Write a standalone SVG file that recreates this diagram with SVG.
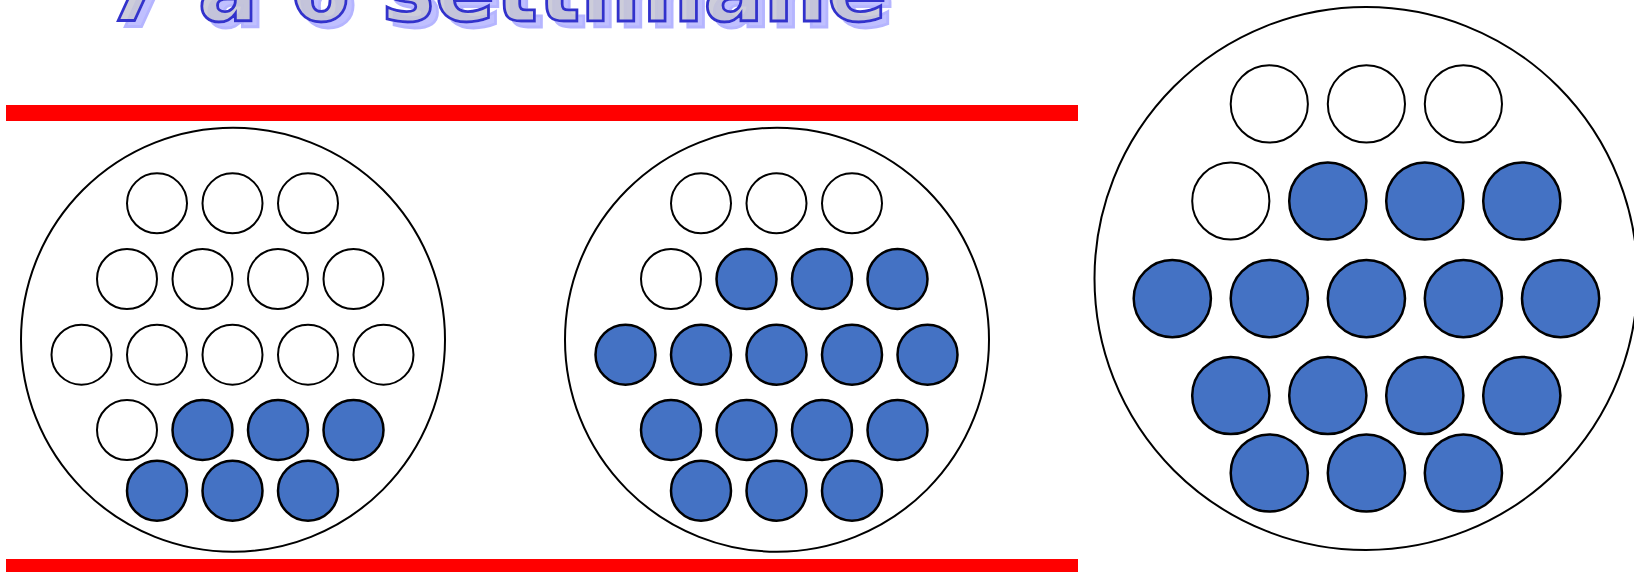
<svg xmlns="http://www.w3.org/2000/svg" width="1634" height="572" viewBox="0 0 1634 572">
<style>
.bar{fill:#FF0000}
.outer{fill:#FFFFFF;stroke:#000000;stroke-width:2}
.e{fill:#FFFFFF;stroke:#000000;stroke-width:2}
.f{fill:#4472C4;stroke:#000000;stroke-width:2.5}
.t{font-family:"DejaVu Sans","Liberation Sans",sans-serif;font-weight:bold;font-size:89px}
.tmain{fill:#C4C4D4;fill-opacity:0.85;stroke:#3333CC;stroke-width:2.8}
</style>
<defs>
<filter id="shadow" x="-5%" y="-50%" width="110%" height="200%">
<feOffset in="SourceAlpha" dx="7" dy="6" result="off"/>
<feFlood flood-color="#9C9CFF" flood-opacity="0.75" result="col"/>
<feComposite in="col" in2="off" operator="in" result="sh"/>
<feMerge><feMergeNode in="sh"/><feMergeNode in="SourceGraphic"/></feMerge>
</filter>
</defs>
<rect width="1634" height="572" fill="#FFFFFF"/>
<g id="title">
<text class="t tmain" x="105" y="21" filter="url(#shadow)">7 a 6 settimane</text>
</g>
<g id="bars">
<rect class="bar" x="6" y="105" width="1072" height="16"/>
<rect class="bar" x="6" y="559" width="1072" height="16"/>
</g>
<g id="cluster1">
<circle class="outer" cx="233" cy="339.7" r="212"/>
<circle class="e" cx="157" cy="203.3" r="30"/><circle class="e" cx="232.5" cy="203.3" r="30"/><circle class="e" cx="308" cy="203.3" r="30"/>
<circle class="e" cx="127" cy="279" r="30"/><circle class="e" cx="202.5" cy="279" r="30"/><circle class="e" cx="278" cy="279" r="30"/><circle class="e" cx="353.5" cy="279" r="30"/>
<circle class="e" cx="81.5" cy="354.7" r="30"/><circle class="e" cx="157" cy="354.7" r="30"/><circle class="e" cx="232.5" cy="354.7" r="30"/><circle class="e" cx="308" cy="354.7" r="30"/><circle class="e" cx="383.5" cy="354.7" r="30"/>
<circle class="e" cx="127" cy="430" r="30"/><circle class="f" cx="202.5" cy="430" r="30"/><circle class="f" cx="278" cy="430" r="30"/><circle class="f" cx="353.5" cy="430" r="30"/>
<circle class="f" cx="157" cy="490.7" r="30"/><circle class="f" cx="232.5" cy="490.7" r="30"/><circle class="f" cx="308" cy="490.7" r="30"/>
</g>
<g id="cluster2">
<circle class="outer" cx="777" cy="339.7" r="212"/>
<circle class="e" cx="701" cy="203.3" r="30"/><circle class="e" cx="776.5" cy="203.3" r="30"/><circle class="e" cx="852" cy="203.3" r="30"/>
<circle class="e" cx="671" cy="279" r="30"/><circle class="f" cx="746.5" cy="279" r="30"/><circle class="f" cx="822" cy="279" r="30"/><circle class="f" cx="897.5" cy="279" r="30"/>
<circle class="f" cx="625.5" cy="354.7" r="30"/><circle class="f" cx="701" cy="354.7" r="30"/><circle class="f" cx="776.5" cy="354.7" r="30"/><circle class="f" cx="852" cy="354.7" r="30"/><circle class="f" cx="927.5" cy="354.7" r="30"/>
<circle class="f" cx="671" cy="430" r="30"/><circle class="f" cx="746.5" cy="430" r="30"/><circle class="f" cx="822" cy="430" r="30"/><circle class="f" cx="897.5" cy="430" r="30"/>
<circle class="f" cx="701" cy="490.7" r="30"/><circle class="f" cx="776.5" cy="490.7" r="30"/><circle class="f" cx="852" cy="490.7" r="30"/>
</g>
<g id="cluster3">
<circle class="outer" cx="1366" cy="278.5" r="271.5"/>
<circle class="e" cx="1269.3" cy="103.9" r="38.6"/><circle class="e" cx="1366.4" cy="103.9" r="38.6"/><circle class="e" cx="1463.4" cy="103.9" r="38.6"/>
<circle class="e" cx="1230.8" cy="201" r="38.6"/><circle class="f" cx="1327.8" cy="201" r="38.6"/><circle class="f" cx="1424.8" cy="201" r="38.6"/><circle class="f" cx="1521.8" cy="201" r="38.6"/>
<circle class="f" cx="1172.3" cy="298.6" r="38.6"/><circle class="f" cx="1269.3" cy="298.6" r="38.6"/><circle class="f" cx="1366.4" cy="298.6" r="38.6"/><circle class="f" cx="1463.4" cy="298.6" r="38.6"/><circle class="f" cx="1560.6" cy="298.6" r="38.6"/>
<circle class="f" cx="1230.8" cy="395.5" r="38.6"/><circle class="f" cx="1327.8" cy="395.5" r="38.6"/><circle class="f" cx="1424.8" cy="395.5" r="38.6"/><circle class="f" cx="1521.8" cy="395.5" r="38.6"/>
<circle class="f" cx="1269.3" cy="473" r="38.6"/><circle class="f" cx="1366.4" cy="473" r="38.6"/><circle class="f" cx="1463.4" cy="473" r="38.6"/>
</g>
</svg>
